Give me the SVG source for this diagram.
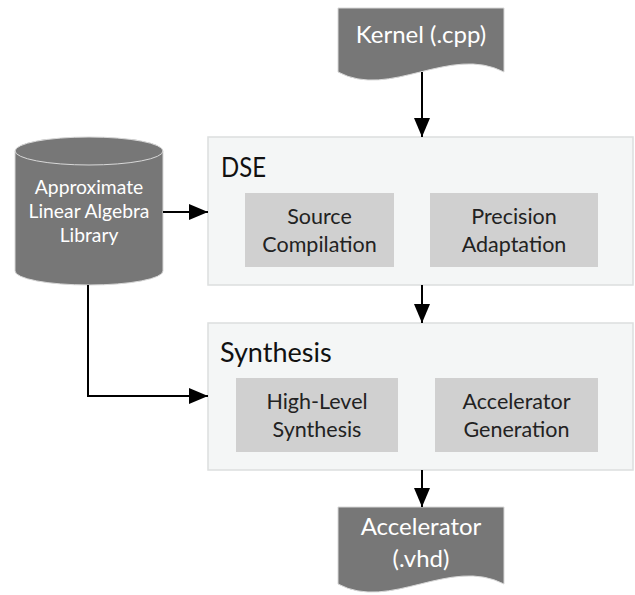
<svg xmlns="http://www.w3.org/2000/svg" width="635" height="595" viewBox="0 0 635 595">
<style>
.doc{fill:#777777;stroke:#d8d8d8;stroke-width:1}
.wt{fill:#ffffff;font-family:Lato,"Open Sans",sans-serif;text-anchor:middle}
.stage{fill:#f4f6f6;stroke:#dcdede;stroke-width:1.5}
.inner{fill:#d0d0d0;stroke:none}
.title{fill:#111111;font-family:Lato,"Open Sans",sans-serif;font-size:27px}
.it{fill:#222222;font-family:Lato,"Open Sans",sans-serif;font-size:21.5px;text-anchor:middle}
.edge{fill:none;stroke:#000000;stroke-width:2}
</style>
<defs>
<marker id="ah" viewBox="0 0 10 10" refX="10" refY="5" markerWidth="19" markerHeight="16" markerUnits="userSpaceOnUse" orient="auto" preserveAspectRatio="none">
<path d="M0,0 L10,5 L0,10 Z" fill="#000"/>
</marker>
</defs>
<rect width="635" height="595" fill="#ffffff"/>
<g id="dse">
<rect class="stage" x="208" y="137" width="425" height="148"/>
<text class="title" x="221" y="177" textLength="45" lengthAdjust="spacingAndGlyphs">DSE</text>
</g>
<g id="source-compilation">
<rect class="inner" x="245" y="193" width="149" height="74"/>
<text class="it" x="319.5" y="224">Source</text>
<text class="it" x="319.5" y="252">Compilation</text>
</g>
<g id="precision-adaptation">
<rect class="inner" x="430" y="193" width="168" height="74"/>
<text class="it" x="514" y="224">Precision</text>
<text class="it" x="514" y="252">Adaptation</text>
</g>
<g id="synthesis">
<rect class="stage" x="208" y="323" width="425" height="147"/>
<text class="title" x="220" y="362" font-size="29">Synthesis</text>
</g>
<g id="high-level-synthesis">
<rect class="inner" x="236" y="378" width="162" height="74"/>
<text class="it" x="317" y="409">High-Level</text>
<text class="it" x="317" y="437">Synthesis</text>
</g>
<g id="accelerator-generation">
<rect class="inner" x="435" y="378" width="163" height="74"/>
<text class="it" x="516.5" y="409">Accelerator</text>
<text class="it" x="516.5" y="437">Generation</text>
</g>
<g id="kernel">
<path class="doc" d="M338,8 H504 V72 C450,44 390,100 338,72 Z"/>
<text class="wt" x="421" y="43" font-size="24">Kernel (.cpp)</text>
</g>
<g id="library">
<path d="M15,151 V271 A74,14 0 0 0 163,271 V151 A74,14 0 0 0 15,151 Z" fill="#777777" stroke="#d8d8d8" stroke-width="1"/>
<path d="M15,151 A74,14 0 0 0 163,151" fill="none" stroke="#d8d8d8" stroke-width="1"/>
<text class="wt" x="89" y="194" font-size="19.3">Approximate</text>
<text class="wt" x="89" y="218" font-size="19.3">Linear Algebra</text>
<text class="wt" x="89" y="242" font-size="19.3">Library</text>
</g>
<g id="accelerator">
<path class="doc" d="M338,507 H504 V584 C450,556 390,612 338,584 Z"/>
<text class="wt" x="421" y="535" font-size="24">Accelerator</text>
<text class="wt" x="421" y="567" font-size="24">(.vhd)</text>
</g>
<g id="connectors">
<path class="edge" d="M422,72 V137" marker-end="url(#ah)"/>
<path class="edge" d="M163,212 H208" marker-end="url(#ah)"/>
<path class="edge" d="M422,285 V323" marker-end="url(#ah)"/>
<path class="edge" d="M88,285 V396 H208" marker-end="url(#ah)"/>
<path class="edge" d="M422,470 V507" marker-end="url(#ah)"/>
</g>
</svg>
